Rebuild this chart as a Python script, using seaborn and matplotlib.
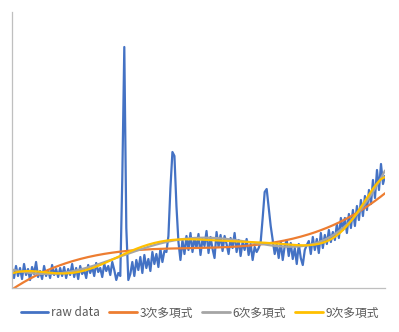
import numpy as np
import pandas as pd
import matplotlib
matplotlib.use("Agg")
import matplotlib.pyplot as plt
import seaborn as sns

# sample positions (channel index) and raw signal values
x_start, x_step = 12, 2
raw_values = [
    18, 10, 22, 12, 20, 9, 24, 13, 19, 8, 21, 14, 26, 11, 17, 9, 22, 12, 18, 10, 23, 13, 19, 11, 20,
    12, 21, 10, 19, 13, 24, 11, 20, 9, 22, 14, 18, 10, 23, 15, 21, 12, 25, 16, 20, 11, 24, 17, 22, 13, 26, 18, 8, 15,
    12, 110, 241, 60, 8,
    14, 26, 12, 28, 18, 31, 15, 33, 20, 29, 17, 36, 24, 34, 21, 39, 26, 37,
    36, 52, 100, 136, 132, 82, 46, 28,
    48, 34, 52, 38, 55, 36, 50, 40, 54, 33, 49, 42, 57, 35, 51, 39, 30, 56, 41, 53, 37, 52, 44, 34, 50,
    40, 55, 36, 48, 32, 46, 38, 49, 33, 44, 28, 41, 36,
    40, 46, 70, 96, 99, 80, 62, 48, 34,
    44, 30, 46, 28, 42, 48, 32, 45, 29, 40, 24, 44, 30, 23, 38, 43,
    47, 34, 51, 38, 49, 35, 55, 40, 53, 44, 58, 46, 56, 48, 64, 50, 70,
    58, 70, 55, 74, 60, 78, 62, 82, 68, 88, 72, 92, 78, 98, 84, 108, 90, 118, 98, 124, 104, 112,
]
x_values = [x_start + x_step * i for i in range(len(raw_values))]

fit_orders = [3, 6, 9]
labels = ["raw data", "3次多項式", "6次多項式", "9次多項式"]
colors = ["#4472C4", "#ED7D31", "#A5A5A5", "#FFC000"]

sns.set_style("white")
plt.rcParams["font.family"] = ["Noto Sans CJK JP", "DejaVu Sans"]

x = np.array(x_values, dtype=float)
y = np.array(raw_values, dtype=float)

frames = [pd.DataFrame({"x": x, "y": y, "series": labels[0]})]
for order, lab in zip(fit_orders, labels[1:]):
    p = np.polynomial.Polynomial.fit(x, y, order)
    frames.append(pd.DataFrame({"x": x, "y": p(x), "series": lab}))
df = pd.concat(frames, ignore_index=True)

fig = plt.figure(figsize=(3.99, 3.32), dpi=100)
ax = fig.add_axes([12 / 399, 44 / 332, 373 / 399, 276 / 332])

for lab, col in zip(labels, colors):
    sub = df[df["series"] == lab]
    sns.lineplot(data=sub, x="x", y="y", ax=ax, color=col, linewidth=1.6,
                 label=lab, estimator=None, sort=False)

ax.set_xlim(x[0], x[-1])
ax.set_ylim(0, 276)
ax.set_xticks([])
ax.set_yticks([])
ax.set_xlabel("")
ax.set_ylabel("")
for side in ["top", "right"]:
    ax.spines[side].set_visible(False)
for side in ["left", "bottom"]:
    ax.spines[side].set_color("#BFBFBF")
    ax.spines[side].set_linewidth(0.9)

leg = ax.legend(loc="center", ncol=4, frameon=False, fontsize=8.5, handlelength=2.3,
                handletextpad=0.25, columnspacing=0.8, borderaxespad=0)
leg.set_bbox_to_anchor((200 / 399, 19 / 332), transform=fig.transFigure)
for t in leg.get_texts():
    t.set_color("#595959")
for h in leg.get_lines():
    h.set_linewidth(2.0)

fig.savefig("out.png", dpi=100)
